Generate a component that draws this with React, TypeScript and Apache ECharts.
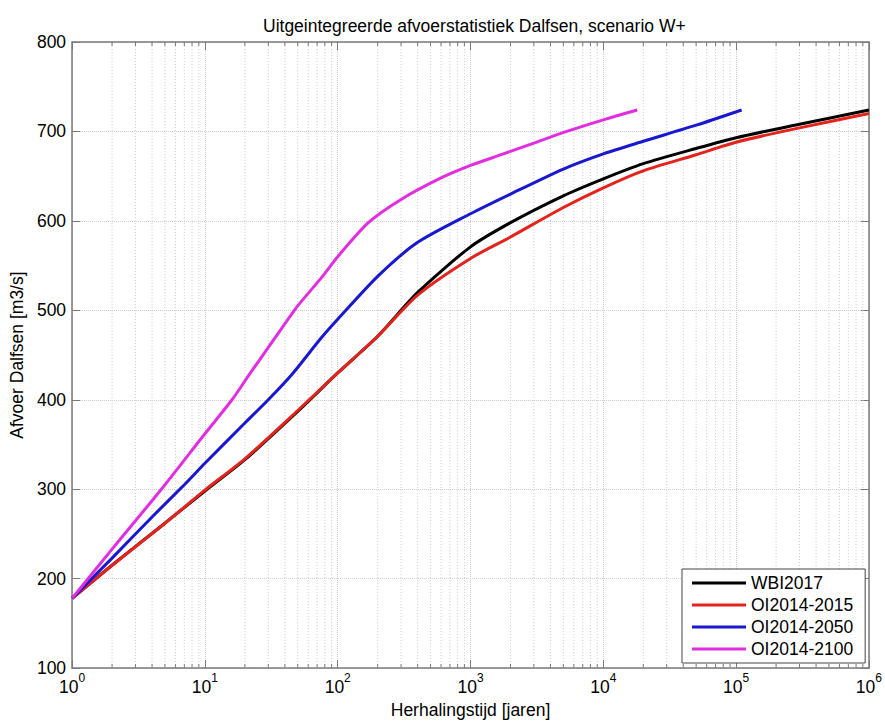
import React, { useEffect, useRef } from "react";
import * as echarts from "echarts";

const TITLE = "Uitgeintegreerde afvoerstatistiek Dalfsen, scenario W+";
const X_NAME = "Herhalingstijd [jaren]";
const Y_NAME = "Afvoer Dalfsen [m3/s]";

const SERIES_NAMES = ["WBI2017", "OI2014-2015", "OI2014-2050", "OI2014-2100"];
const SERIES_COLORS = ["#000000", "#e3231c", "#1818d0", "#e02ee0"];

const WBI_T = [1, 2, 5, 10, 20, 50, 100, 200, 400, 1000, 2000, 5000, 10000, 20000, 50000, 100000, 300000, 1000000];
const WBI_Q = [178, 215, 262, 298, 333, 387, 430, 471, 520, 571, 598, 628, 647, 664, 681, 693, 708, 724];

const OI15_T = [1, 2, 5, 10, 20, 50, 100, 200, 400, 1000, 2000, 5000, 10000, 20000, 50000, 100000, 300000, 1000000];
const OI15_Q = [178, 215, 262, 299, 334, 388, 430, 471, 517, 558, 582, 615, 637, 656, 674, 688, 704, 720];

const OI50_T = [1, 2, 4, 7, 10, 20, 30, 45, 75, 100, 200, 400, 1000, 2000, 5000, 10000, 20000, 50000, 110000];
const OI50_Q = [178, 223, 269, 305, 329, 374, 400, 428, 469, 490, 538, 576, 608, 630, 658, 675, 689, 707, 724];

const OI100_T = [1, 2, 4.7, 10, 16, 22, 34, 50, 75, 100, 170, 300, 600, 1000, 1700, 3000, 5300, 10000, 18000];
const OI100_Q = [178, 233, 300, 362, 400, 430, 470, 505, 536, 560, 598, 624, 648, 662, 674, 687, 700, 713, 724];

const X_MIN = 1;
const X_MAX = 1000000;
const Y_MIN = 100;
const Y_MAX = 800;
const Y_STEP = 100;
const MINOR_MULTS = [2, 3, 4, 5, 6, 7, 8, 9];
const DECADES = [1, 10, 100, 1000, 10000, 100000];

const FONT = "Liberation Sans, Arial, sans-serif";
const AXIS_COLOR = "#7a7a7a";
const GRID_COLOR = "#cccccc";

function pairs(t: number[], q: number[]) {
  return t.map((v, i) => [v, q[i]]);
}

export default function App() {
  const ref = useRef<HTMLDivElement>(null);

  useEffect(() => {
    if (!ref.current) return;
    const chart = echarts.init(ref.current, null, { renderer: "svg" });

    const minorVals: number[][] = [];
    DECADES.forEach((d) => MINOR_MULTS.forEach((m) => minorVals.push([d * m, Y_MIN])));

    const lineData = [
      pairs(WBI_T, WBI_Q),
      pairs(OI15_T, OI15_Q),
      pairs(OI50_T, OI50_Q),
      pairs(OI100_T, OI100_Q),
    ];

    const option: any = {
      animation: false,
      backgroundColor: "#ffffff",
      title: {
        text: TITLE,
        left: 258,
        top: 12,
        textStyle: { fontFamily: FONT, fontSize: 17.5, fontWeight: "normal", color: "#000" },
      },
      legend: {
        data: SERIES_NAMES,
        orient: "vertical",
        left: 682,
        top: 569,
        backgroundColor: "#ffffff",
        borderColor: "#444444",
        borderWidth: 1,
        padding: [5, 12, 5, 10],
        icon: "rect",
        itemWidth: 54,
        itemHeight: 3,
        itemGap: 4,
        textStyle: { fontFamily: FONT, fontSize: 17.5, color: "#000", lineHeight: 18 },
      },
      grid: { left: 71, right: 16, top: 42, bottom: 52, containLabel: false },
      xAxis: [
        {
          type: "log",
          logBase: 10,
          min: X_MIN,
          max: X_MAX,
          splitNumber: 6,
          name: X_NAME,
          nameLocation: "middle",
          nameGap: 27,
          nameTextStyle: { fontFamily: FONT, fontSize: 17.5, color: "#000" },
          axisLine: { lineStyle: { color: AXIS_COLOR, width: 1.5 } },
          axisTick: { inside: true, length: 8, lineStyle: { color: AXIS_COLOR } },
          splitLine: { show: true, lineStyle: { color: GRID_COLOR, type: "dotted", width: 1 } },
          axisLabel: {
            margin: 4,
            formatter: (v: number) => "{b|10}{s|" + Math.round(Math.log10(v)) + "}",
            rich: {
              b: { fontFamily: FONT, fontSize: 17.5, color: "#000", lineHeight: 24, verticalAlign: "bottom" },
              s: { fontFamily: FONT, fontSize: 12, color: "#000", lineHeight: 24, verticalAlign: "top" },
            },
          },
        },
        {
          type: "log",
          logBase: 10,
          min: X_MIN,
          max: X_MAX,
          splitNumber: 6,
          position: "top",
          axisLine: { lineStyle: { color: AXIS_COLOR, width: 1.5 } },
          axisTick: { inside: true, length: 8, lineStyle: { color: AXIS_COLOR } },
          splitLine: { show: false },
          axisLabel: { show: false },
        },
      ],
      yAxis: [
        {
          type: "value",
          min: Y_MIN,
          max: Y_MAX,
          interval: Y_STEP,
          name: Y_NAME,
          nameLocation: "middle",
          nameGap: 46,
          nameTextStyle: { fontFamily: FONT, fontSize: 17.5, color: "#000" },
          axisLine: { show: true, lineStyle: { color: AXIS_COLOR, width: 1.5 } },
          axisTick: { show: true, inside: true, length: 8, lineStyle: { color: AXIS_COLOR } },
          splitLine: { show: true, lineStyle: { color: GRID_COLOR, type: "dotted", width: 1 } },
          axisLabel: { margin: 6, fontFamily: FONT, fontSize: 17.5, color: "#000" },
        },
        {
          type: "value",
          min: Y_MIN,
          max: Y_MAX,
          interval: Y_STEP,
          position: "right",
          axisLine: { show: true, lineStyle: { color: AXIS_COLOR, width: 1.5 } },
          axisTick: { show: true, inside: true, length: 8, lineStyle: { color: AXIS_COLOR } },
          splitLine: { show: false },
          axisLabel: { show: false },
        },
      ],
      series: [
        {
          type: "custom",
          name: "minor",
          silent: true,
          z: 1,
          xAxisIndex: 0,
          yAxisIndex: 0,
          data: minorVals,
          renderItem: (params: any, api: any) => {
            const v = api.value(0);
            const pb = api.coord([v, Y_MIN]);
            const pt = api.coord([v, Y_MAX]);
            return {
              type: "group",
              children: [
                {
                  type: "line",
                  shape: { x1: pb[0], y1: pb[1], x2: pt[0], y2: pt[1] },
                  style: { stroke: GRID_COLOR, lineWidth: 1, lineDash: [1, 2] },
                },
                {
                  type: "line",
                  shape: { x1: pb[0], y1: pb[1], x2: pb[0], y2: pb[1] - 4 },
                  style: { stroke: AXIS_COLOR, lineWidth: 1 },
                },
                {
                  type: "line",
                  shape: { x1: pt[0], y1: pt[1], x2: pt[0], y2: pt[1] + 4 },
                  style: { stroke: AXIS_COLOR, lineWidth: 1 },
                },
              ],
            };
          },
        },
        ...SERIES_NAMES.map((name, i) => ({
          type: "line",
          name,
          data: lineData[i],
          symbol: "none",
          showSymbol: false,
          smooth: 0.25,
          z: 3 + i,
          color: SERIES_COLORS[i],
          itemStyle: { color: SERIES_COLORS[i] },
          lineStyle: { color: SERIES_COLORS[i], width: 3 },
        })),
      ],
    };

    chart.setOption(option);
    return () => chart.dispose();
  }, []);

  return (
    <div
      ref={ref}
      style={{ position: "fixed", left: 0, top: 0, width: 885, height: 724, background: "#fff" }}
    />
  );
}
